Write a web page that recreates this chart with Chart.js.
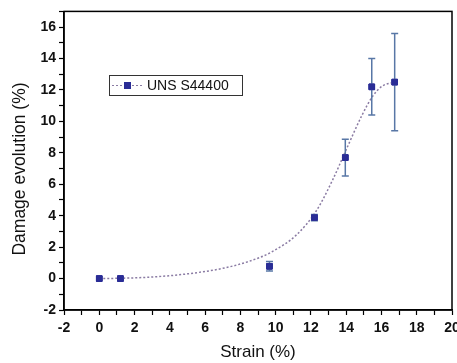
<!DOCTYPE html>
<html>
<head>
<meta charset="utf-8">
<script src="https://cdn.jsdelivr.net/npm/chart.js@4.4.0/dist/chart.umd.min.js"></script>
<style>
  html, body { margin: 0; padding: 0; background: #fff; }
  #wrap { width: 457px; height: 363px; }
</style>
</head>
<body>
<div id="wrap"><canvas id="damage-chart"></canvas></div>
<script>
// Measured points (strain %, damage %) with error half-widths
const strainValues = [0, 1.2, 9.65, 12.2, 13.95, 15.45, 16.75];
const damageValues = [0, 0, 0.78, 3.88, 7.7, 12.2, 12.5];
const damageErrors = [0, 0, 0.3, 0.2, 1.17, 1.8, 3.1];

// Fitted curve
const fitStrain = [0, 1.2, 3, 5, 7, 8.5, 9.7, 11.2, 12.3, 13.2, 14.0, 14.9, 15.5, 16.05, 16.75];
const fitDamage = [0, 0.02, 0.1, 0.3, 0.65, 1.1, 1.65, 2.8, 4.3, 6.2, 8.2, 10.4, 11.6, 12.25, 12.5];

const seriesLabel = 'UNS S44400';
const yTitle = 'Damage evolution (%)';
const markerColor = '#2a2d96';
const errorColor = '#5877a6';
const fitColor = '#8a7ba3';
const fontFamily = '"Liberation Sans", Arial, sans-serif';

// Error bars, frame, y title and legend box
const extrasPlugin = {
    id: 'extras',
    afterDatasetsDraw(chart) {
        const ctx = chart.ctx;
        const xs = chart.scales.x;
        const ys = chart.scales.y;
        ctx.save();
        ctx.strokeStyle = errorColor;
        ctx.lineWidth = 1.5;
        strainValues.forEach((sx, i) => {
            const e = damageErrors[i];
            if (!e) return;
            const px = xs.getPixelForValue(sx);
            const top = ys.getPixelForValue(damageValues[i] + e);
            const bot = ys.getPixelForValue(damageValues[i] - e);
            ctx.beginPath();
            ctx.moveTo(px, top); ctx.lineTo(px, bot);
            ctx.moveTo(px - 3.5, top); ctx.lineTo(px + 3.5, top);
            ctx.moveTo(px - 3.5, bot); ctx.lineTo(px + 3.5, bot);
            ctx.stroke();
        });
        // redraw markers over the bars
        chart.getDatasetMeta(1).controller.draw();

        const a = chart.chartArea;
        ctx.strokeStyle = '#000';
        ctx.lineWidth = 1.5;
        ctx.strokeRect(a.left, a.top, a.right - a.left, a.bottom - a.top);

        // y axis title, sits a little below the plot centre in the original
        ctx.save();
        ctx.translate(20, 169);
        ctx.rotate(-Math.PI / 2);
        ctx.fillStyle = '#111';
        ctx.font = '17.5px ' + fontFamily;
        ctx.textAlign = 'center';
        ctx.textBaseline = 'middle';
        ctx.fillText(yTitle, 0, 0);
        ctx.restore();

        // legend box
        ctx.lineWidth = 1;
        ctx.strokeStyle = '#333';
        ctx.strokeRect(109.5, 75.5, 133, 20);
        ctx.strokeStyle = fitColor;
        ctx.setLineDash([2, 2]);
        ctx.beginPath();
        ctx.moveTo(112, 85.5); ctx.lineTo(142, 85.5);
        ctx.stroke();
        ctx.setLineDash([]);
        ctx.fillStyle = markerColor;
        ctx.fillRect(124, 82, 7, 7);
        ctx.fillStyle = '#111';
        ctx.font = '14px ' + fontFamily;
        ctx.textBaseline = 'middle';
        ctx.fillText(seriesLabel, 147, 86);
        ctx.restore();
    }
};

const tickFont = { family: fontFamily, size: 14, weight: 'bold' };
const xTitleFont = { family: fontFamily, size: 17 };

new Chart(document.getElementById('damage-chart'), {
    type: 'scatter',
    data: {
        datasets: [{
            label: 'fit',
            data: fitStrain.map((x, i) => ({ x: x, y: fitDamage[i] })),
            showLine: true,
            borderColor: fitColor,
            borderWidth: 1.5,
            borderDash: [2, 2],
            pointRadius: 0,
            cubicInterpolationMode: 'monotone'
        }, {
            label: seriesLabel,
            data: strainValues.map((x, i) => ({ x: x, y: damageValues[i] })),
            pointStyle: 'rect',
            pointRadius: 4,
            backgroundColor: markerColor,
            borderColor: markerColor,
            showLine: false
        }]
    },
    options: {
        responsive: true,
        maintainAspectRatio: false,
        animation: false,
        layout: { padding: { top: 9, right: 4, left: 0, bottom: 0 } },
        plugins: { legend: { display: false }, tooltip: { enabled: false } },
        scales: {
            x: {
                type: 'linear',
                min: -2,
                max: 20,
                afterFit(scale) { scale.height = 53; scale.paddingRight = 0; },
                ticks: {
                    stepSize: 1,
                    color: '#111',
                    font: tickFont,
                    padding: 5,
                    maxRotation: 0,
                    autoSkip: false,
                    callback: v => (v % 2 === 0 ? v : '')
                },
                grid: { drawOnChartArea: false, color: '#000', tickLength: 5, tickWidth: 1.2 },
                border: { color: '#000', width: 1.5 },
                title: { display: true, text: 'Strain (%)', color: '#111', font: xTitleFont, padding: { top: -3, bottom: 0 } }
            },
            y: {
                min: -2,
                max: 17,
                afterFit(scale) { scale.width = 64; },
                ticks: {
                    stepSize: 1,
                    color: '#111',
                    font: tickFont,
                    padding: 3,
                    autoSkip: false,
                    callback: v => (v % 2 === 0 ? v : '')
                },
                grid: { drawOnChartArea: false, color: '#000', tickLength: 5, tickWidth: 1.2 },
                border: { color: '#000', width: 1.5 },
                title: { display: false }
            }
        }
    },
    plugins: [extrasPlugin]
});
</script>
</body>
</html>
